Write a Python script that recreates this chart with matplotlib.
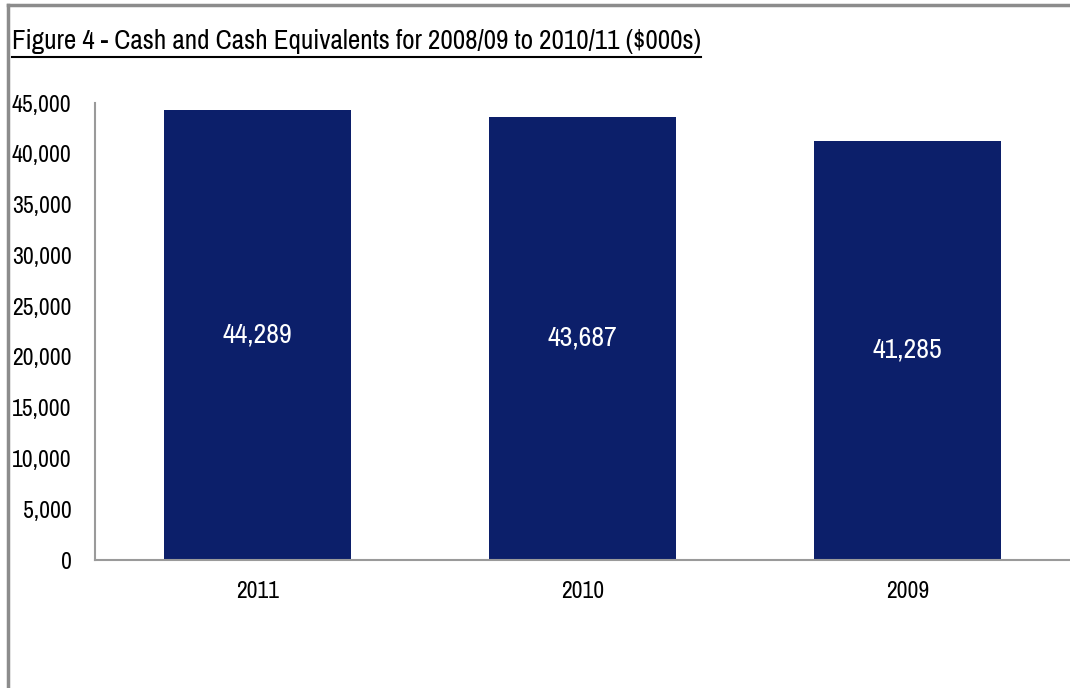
import matplotlib
matplotlib.use('Agg')
import matplotlib.pyplot as plt
from matplotlib.lines import Line2D
from matplotlib.ticker import FuncFormatter

plt.rcParams['font.family'] = ['Archivo Narrow', 'Liberation Sans', 'DejaVu Sans']

years = ['2011', '2010', '2009']
cash = [44289, 43687, 41285]
yticks = [0, 5000, 10000, 15000, 20000, 25000, 30000, 35000, 40000, 45000]

title = 'Figure 4 - Cash and Cash Equivalents for 2008/09 to 2010/11 ($000s)'
bar_color = '#0c1f6a'
axis_gray = '#9a9a9a'

fig = plt.figure(figsize=(10.70, 6.88), dpi=100)
ax = fig.add_axes([0.0888, 0.186, 0.9112, 0.664])

x = list(range(len(years)))
bars = ax.bar(x, cash, width=0.574, color=bar_color, zorder=2)

# value labels sit in the middle of each bar
for b, v in zip(bars, cash):
    ax.text(b.get_x() + b.get_width() / 2, v / 2, f'{v:,}',
            ha='center', va='center', color='white', fontsize=20)

ax.set_xlim(-0.5, 2.5)
ax.set_ylim(0, 45000)
ax.set_xticks(x)
ax.set_xticklabels(years)
ax.set_yticks(yticks)
ax.yaxis.set_major_formatter(FuncFormatter(lambda v, p: f'{int(v):,}'))
ax.tick_params(axis='both', length=0, labelsize=17, colors='black')
ax.tick_params(axis='y', pad=17)
ax.tick_params(axis='x', pad=15)

for side in ['top', 'right']:
    ax.spines[side].set_visible(False)
for side in ['left', 'bottom']:
    ax.spines[side].set_color(axis_gray)
    ax.spines[side].set_linewidth(1.5)

# outer frame: top and left edges only
fig.add_artist(Line2D([0.0075, 1.0], [0.9927, 0.9927], color='#8c8c8c', lw=2.5,
                      transform=fig.transFigure))
fig.add_artist(Line2D([0.0075, 0.0075], [0.0, 0.9927], color='#8c8c8c', lw=2.5,
                      transform=fig.transFigure))

# underlined title
t = fig.text(0.0112, 0.939, title, fontsize=19.5, ha='left', va='center', color='black')
fig.canvas.draw()
bb = t.get_window_extent().transformed(fig.transFigure.inverted())
fig.add_artist(Line2D([bb.x0, bb.x1], [bb.y0 - 0.003, bb.y0 - 0.003], color='black',
                      lw=1.5, transform=fig.transFigure))

fig.savefig('out.png', dpi=100)
